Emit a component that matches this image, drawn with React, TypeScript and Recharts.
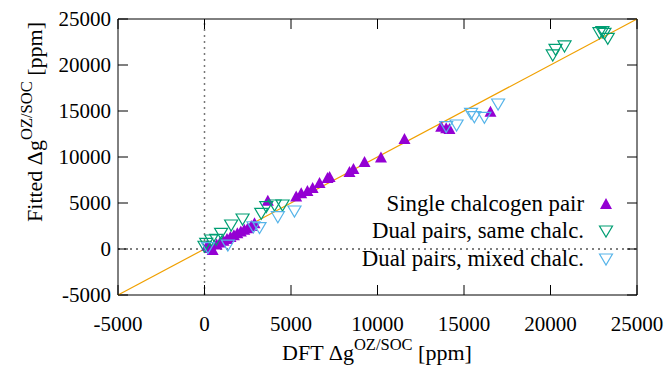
import React from "react";
import { ScatterChart, Scatter, XAxis, YAxis, ReferenceLine, Legend } from "recharts";

// DFT value (x) vs fitted value (y), ppm
const singlePair = [
  { x: 150, y: 350 }, { x: 300, y: 100 }, { x: 470, y: -110 }, { x: 700, y: 500 },
  { x: 900, y: 700 }, { x: 1100, y: 900 }, { x: 1300, y: 1100 }, { x: 1500, y: 1300 },
  { x: 1700, y: 1500 }, { x: 1900, y: 1700 }, { x: 2100, y: 1900 }, { x: 2300, y: 2100 },
  { x: 2500, y: 2250 }, { x: 2700, y: 2500 }, { x: 2890, y: 2790 }, { x: 3660, y: 5250 },
  { x: 5300, y: 5700 }, { x: 5590, y: 6050 }, { x: 5950, y: 6300 }, { x: 6250, y: 6630 },
  { x: 6650, y: 7170 }, { x: 7110, y: 7720 }, { x: 7230, y: 7830 }, { x: 8380, y: 8370 },
  { x: 8610, y: 8700 }, { x: 9250, y: 9460 }, { x: 10200, y: 9950 }, { x: 11560, y: 11960 },
  { x: 13680, y: 13300 }, { x: 13970, y: 13120 }, { x: 14160, y: 13040 }, { x: 16530, y: 14930 },
];

const dualSame = [
  { x: 0, y: 300 }, { x: 100, y: 620 }, { x: 390, y: 980 }, { x: 680, y: 1050 },
  { x: 960, y: 1700 }, { x: 1540, y: 2610 }, { x: 2200, y: 3260 }, { x: 3280, y: 3880 },
  { x: 3570, y: 4600 }, { x: 4050, y: 4780 }, { x: 4510, y: 4780 },
  { x: 20130, y: 21090 }, { x: 20290, y: 21700 }, { x: 20810, y: 22070 },
  { x: 22830, y: 23510 }, { x: 23000, y: 23620 }, { x: 23120, y: 23440 }, { x: 23310, y: 22900 },
];

const dualMixed = [
  { x: 200, y: 150 }, { x: 1350, y: 430 }, { x: 2830, y: 2420 }, { x: 3180, y: 2320 },
  { x: 4240, y: 3510 }, { x: 5200, y: 4130 },
  { x: 13970, y: 13300 }, { x: 14570, y: 13480 }, { x: 15410, y: 14750 },
  { x: 15600, y: 14380 }, { x: 16180, y: 14310 }, { x: 16970, y: 15760 },
];

// y = x guide
const fitLine = [{ x: -5000, y: -5000 }, { x: 25000, y: 25000 }];
const axisTicks = [-5000, 0, 5000, 10000, 15000, 20000, 25000];

const seriesNames = ["Single chalcogen pair", "Dual pairs, same chalc.", "Dual pairs, mixed chalc."];
const colors = ["#9400d3", "#009e73", "#56b4e9"];

const font = "Liberation Serif";
const TICK_LEN = 10;
const MARGIN = 2; // recharts default tickMargin

const UpTri = (props: any) => {
  const { cx, cy } = props;
  return <polygon points={`${cx - 6},${cy + 5} ${cx + 6},${cy + 5} ${cx},${cy - 6}`} fill={colors[0]} />;
};

const makeDownTri = (color: string) => (props: any) => {
  const { cx, cy } = props;
  return (
    <polygon
      points={`${cx - 6.5},${cy - 5} ${cx + 6.5},${cy - 5} ${cx},${cy + 6}`}
      fill="none"
      stroke={color}
      strokeWidth={1.2}
    />
  );
};

const NoDot = () => <g />;

// inward ticks, gnuplot style; tickSize is 0 so tick x/y = axis line +/- default margin
const renderBottomTick = (props: any) => {
  const { x, y, payload } = props;
  const y0 = y - MARGIN;
  return (
    <g>
      <line x1={x} x2={x} y1={y0} y2={y0 - TICK_LEN} stroke="#000" />
      <text x={x} y={y0 + 36} textAnchor="middle" fontFamily={font} fontSize={21} fill="#000">
        {payload.value}
      </text>
    </g>
  );
};
const renderTopTick = (props: any) => {
  const y0 = props.y + MARGIN;
  return <line x1={props.x} x2={props.x} y1={y0} y2={y0 + TICK_LEN} stroke="#000" />;
};
const renderLeftTick = (props: any) => {
  const { x, y, payload } = props;
  const x0 = x + MARGIN;
  return (
    <g>
      <line x1={x0} x2={x0 + TICK_LEN} y1={y} y2={y} stroke="#000" />
      <text x={x0 - 7} y={y + 7} textAnchor="end" fontFamily={font} fontSize={21} fill="#000">
        {payload.value}
      </text>
    </g>
  );
};
const renderRightTick = (props: any) => {
  const x0 = props.x - MARGIN;
  return <line x1={x0} x2={x0 - TICK_LEN} y1={props.y} y2={props.y} stroke="#000" />;
};

const renderLegend = () => (
  <div style={{ fontFamily: font, fontSize: 22.8, color: "#000" }}>
    {seriesNames.map((name, i) => (
      <div key={name} style={{ display: "flex", justifyContent: "flex-end", alignItems: "center", height: 27.5 }}>
        <span>{name}</span>
        <svg width={44} height={20}>
          {i === 0 ? (
            <polygon points="16,15 28,15 22,4" fill={colors[0]} />
          ) : (
            <polygon points="15.5,5 28.5,5 22,16" fill="none" stroke={colors[i]} strokeWidth={1.2} />
          )}
        </svg>
      </div>
    ))}
  </div>
);

const XLabel = () => (
  <text x={377} y={360} textAnchor="middle" fontFamily={font} fontSize={22} fill="#000">
    DFT Δg
    <tspan dy={-10} fontSize={16.5}>OZ/SOC</tspan>
    <tspan dy={10} fontSize={22}> [ppm]</tspan>
  </text>
);

const YLabel = () => (
  <text transform="rotate(-90)" x={-122} y={42} textAnchor="middle" fontFamily={font} fontSize={22} fill="#000">
    Fitted Δg
    <tspan dy={-10} fontSize={16.5}>OZ/SOC</tspan>
    <tspan dy={10} fontSize={22}> [ppm]</tspan>
  </text>
);

const axisLine = { stroke: "#000" };

export default function App() {
  return (
    <div style={{ position: "absolute", left: 0, top: 0, background: "#fff" }}>
      <ScatterChart width={668} height={373} margin={{ top: 18, right: 30, bottom: 0, left: 0 }}>
        <XAxis
          type="number"
          dataKey="x"
          domain={[-5000, 25000]}
          ticks={axisTicks}
          height={78}
          tickSize={0}
          tickLine={false}
          tick={renderBottomTick}
          axisLine={axisLine}
          label={<XLabel />}
        />
        <XAxis
          xAxisId={1}
          orientation="top"
          type="number"
          dataKey="x"
          domain={[-5000, 25000]}
          ticks={axisTicks}
          height={1}
          tickSize={0}
          tickLine={false}
          tick={renderTopTick}
          axisLine={axisLine}
        />
        <YAxis
          type="number"
          dataKey="y"
          domain={[-5000, 25000]}
          ticks={axisTicks}
          width={118}
          tickSize={0}
          tickLine={false}
          tick={renderLeftTick}
          axisLine={axisLine}
          label={<YLabel />}
        />
        <YAxis
          yAxisId={1}
          orientation="right"
          type="number"
          dataKey="y"
          domain={[-5000, 25000]}
          ticks={axisTicks}
          width={1}
          tickSize={0}
          tickLine={false}
          tick={renderRightTick}
          axisLine={axisLine}
        />
        <ReferenceLine x={0} stroke="#777" strokeDasharray="2 4" strokeWidth={1.5} />
        <ReferenceLine y={0} stroke="#000" strokeDasharray="2 4" strokeWidth={1.2} />
        <Scatter
          xAxisId={1}
          yAxisId={1}
          data={fitLine}
          line={{ stroke: "#f0a000", strokeWidth: 1.2 }}
          shape={NoDot}
          isAnimationActive={false}
        />
        <Scatter name={seriesNames[0]} data={singlePair} shape={UpTri} isAnimationActive={false} />
        <Scatter name={seriesNames[1]} data={dualSame} shape={makeDownTri(colors[1])} isAnimationActive={false} />
        <Scatter name={seriesNames[2]} data={dualMixed} shape={makeDownTri(colors[2])} isAnimationActive={false} />
        <Legend
          layout="horizontal"
          verticalAlign="middle"
          align="center"
          content={renderLegend}
          wrapperStyle={{ top: 190, left: 300, width: 328 }}
        />
      </ScatterChart>
    </div>
  );
}
